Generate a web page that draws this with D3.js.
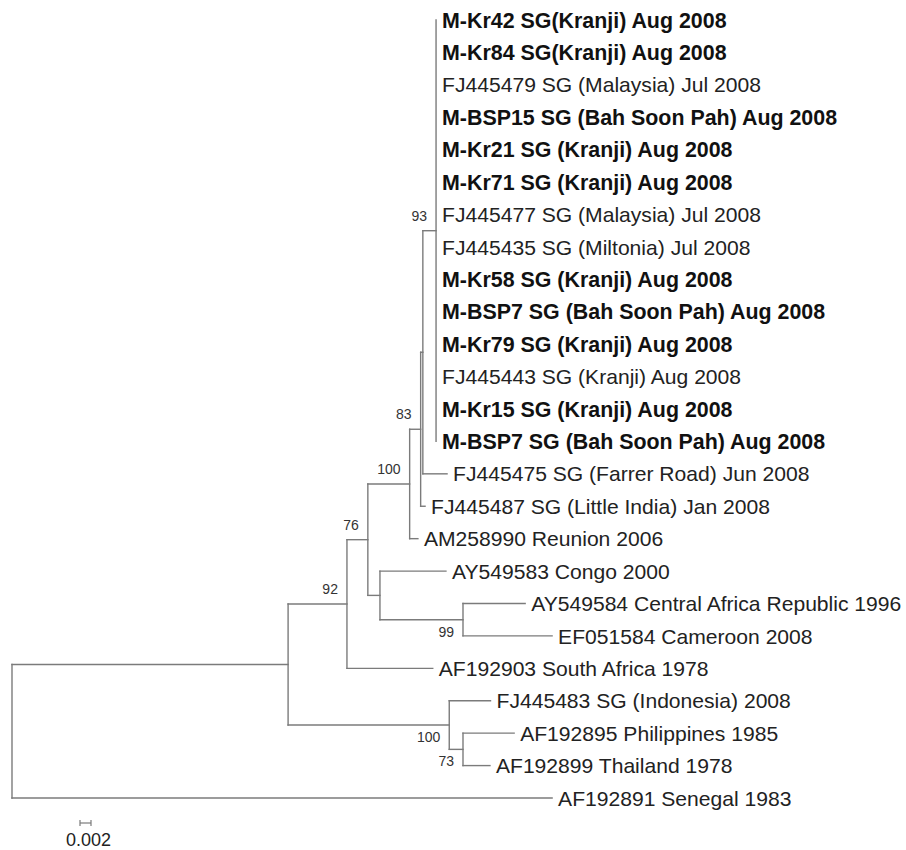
<!DOCTYPE html>
<html>
<head>
<meta charset="utf-8">
<script src="https://cdn.jsdelivr.net/npm/d3@7"></script>
<style>
  body { margin: 0; background: #fff; }
  svg { display: block; font-family: "Liberation Sans", Arial, sans-serif; }
</style>
</head>
<body>
<svg id="chart"></svg>
<script>
// Phylogenetic tree, rectangular layout

const width = 906, height = 850;

// tip labels, top to bottom
const tipIds = ["t0","t1","t2","t3","t4","t5","t6","t7","t8","t9","t10","t11","t12",
  "t13","t14","t15","t16","t17","t18","t19","t20","t21","t22","t23","t24"];
const tipLabels = [
  "M-Kr42 SG(Kranji) Aug 2008",
  "M-Kr84 SG(Kranji) Aug 2008",
  "FJ445479 SG (Malaysia) Jul 2008",
  "M-BSP15 SG (Bah Soon Pah) Aug 2008",
  "M-Kr21 SG (Kranji) Aug 2008",
  "M-Kr71 SG (Kranji) Aug 2008",
  "FJ445477 SG (Malaysia) Jul 2008",
  "FJ445435 SG (Miltonia) Jul 2008",
  "M-Kr58 SG (Kranji) Aug 2008",
  "M-BSP7 SG (Bah Soon Pah) Aug 2008",
  "M-Kr79 SG (Kranji) Aug 2008",
  "FJ445443 SG (Kranji) Aug 2008",
  "M-Kr15 SG (Kranji) Aug 2008",
  "M-BSP7 SG (Bah Soon Pah) Aug 2008",
  "FJ445475 SG (Farrer Road) Jun 2008",
  "FJ445487 SG (Little India) Jan 2008",
  "AM258990 Reunion 2006",
  "AY549583 Congo 2000",
  "AY549584 Central Africa Republic 1996",
  "EF051584 Cameroon 2008",
  "AF192903 South Africa 1978",
  "FJ445483 SG (Indonesia) 2008",
  "AF192895 Philippines 1985",
  "AF192899 Thailand 1978",
  "AF192891 Senegal 1983"
];

// [id, parent, branch length]
const edges = [
  ["root", "", 0],
  ["nIn", "root", 0.0502],
  ["n92", "nIn", 0.0107],
  ["n76", "n92", 0.0038],
  ["n100a", "n76", 0.0076],
  ["n83", "n100a", 0.0020],
  ["nA", "n83", 0.0004],
  ["n93", "nA", 0.0024],
  ["t0", "n93", 0], ["t1", "n93", 0], ["t2", "n93", 0], ["t3", "n93", 0],
  ["t4", "n93", 0], ["t5", "n93", 0], ["t6", "n93", 0], ["t7", "n93", 0],
  ["t8", "n93", 0], ["t9", "n93", 0], ["t10", "n93", 0], ["t11", "n93", 0],
  ["t12", "n93", 0], ["t13", "n93", 0],
  ["t14", "nA", 0.0044],
  ["t15", "n83", 0.0008],
  ["t16", "n100a", 0.0015],
  ["nAfr", "n76", 0.0022],
  ["t17", "nAfr", 0.0120],
  ["n99", "nAfr", 0.0151],
  ["t18", "n99", 0.0113],
  ["t19", "n99", 0.0162],
  ["t20", "n92", 0.0156],
  ["n100b", "nIn", 0.0293],
  ["t21", "n100b", 0.0075],
  ["n73", "n100b", 0.0025],
  ["t22", "n73", 0.0093],
  ["t23", "n73", 0.0049],
  ["t24", "root", 0.0982]
];

// bootstrap support [node, value]
const bootstrap = [
  ["n93", 93], ["n83", 83], ["n100a", 100], ["n76", 76],
  ["n92", 92], ["n99", 99], ["n100b", 100], ["n73", 73]
];

const scaleBarValue = 0.002;

const svg = d3.select("#chart")
  .attr("width", width)
  .attr("height", height);

svg.append("rect").attr("width", width).attr("height", height).attr("fill", "#fff");

const root = d3.stratify()
  .id(d => d[0])
  .parentId(d => d[1] || null)(edges);

const x = d3.scaleLinear().domain([0, 0.1]).range([12, 562]);
const y = d3.scalePoint().domain(tipIds).range([20, 798]);

const labelOf = new Map(tipIds.map((id, i) => [id, tipLabels[i]]));
const supportOf = new Map(bootstrap);

root.eachBefore(d => {
  d.dist = d.parent ? d.parent.dist + d.data[2] : 0;
});
root.eachAfter(d => {
  if (d.children) {
    d.y0 = (d.children[0].y0 + d.children[d.children.length - 1].y0) / 2;
  } else {
    d.y0 = y(d.id);
  }
});

const lineColor = "#7b7b7b";
const g = svg.append("g");

// horizontal branches
g.selectAll("line.h")
  .data(root.descendants().filter(d => d.parent && d.data[2] > 0))
  .join("line")
  .attr("class", "h")
  .attr("x1", d => x(d.parent.dist))
  .attr("x2", d => x(d.dist))
  .attr("y1", d => d.y0)
  .attr("y2", d => d.y0)
  .attr("stroke", lineColor)
  .attr("stroke-width", 1.4)
  .attr("stroke-linecap", "square");

// vertical connectors
g.selectAll("line.v")
  .data(root.descendants().filter(d => d.children))
  .join("line")
  .attr("class", "v")
  .attr("x1", d => x(d.dist))
  .attr("x2", d => x(d.dist))
  .attr("y1", d => d.children[0].y0)
  .attr("y2", d => d.children[d.children.length - 1].y0)
  .attr("stroke", lineColor)
  .attr("stroke-width", 1.4)
  .attr("stroke-linecap", "square");

// tip labels (isolates from this study in bold)
const isStudy = d => labelOf.get(d.id).startsWith("M-");
g.selectAll("text.tip")
  .data(root.leaves())
  .join("text")
  .attr("class", "tip")
  .attr("x", d => x(d.dist) + 6)
  .attr("y", d => d.y0)
  .attr("dy", "0.36em")
  .attr("font-size", d => isStudy(d) ? 21.4 : 21.1)
  .attr("font-weight", d => isStudy(d) ? "bold" : "normal")
  .attr("fill", d => isStudy(d) ? "#111" : "#222")
  .text(d => labelOf.get(d.id));

// bootstrap values: above branch for upper child, below for lower child
g.selectAll("text.bs")
  .data(root.descendants().filter(d => supportOf.has(d.id)))
  .join("text")
  .attr("class", "bs")
  .attr("x", d => x(d.dist) - 9)
  .attr("y", d => d.parent.children[0] === d ? d.y0 - 10 : d.y0 + 17)
  .attr("text-anchor", "end")
  .attr("font-size", 14)
  .attr("fill", "#333")
  .text(d => supportOf.get(d.id));

// scale bar
const barX = 80, barY = 823;
const barW = x(scaleBarValue) - x(0);
const bar = svg.append("g").attr("stroke", lineColor).attr("stroke-width", 1.2);
bar.append("line").attr("x1", barX).attr("x2", barX + barW).attr("y1", barY).attr("y2", barY);
bar.append("line").attr("x1", barX).attr("x2", barX).attr("y1", barY - 3).attr("y2", barY + 3);
bar.append("line").attr("x1", barX + barW).attr("x2", barX + barW).attr("y1", barY - 3).attr("y2", barY + 3);
svg.append("text")
  .attr("x", barX + barW / 2 + 3)
  .attr("y", 846)
  .attr("text-anchor", "middle")
  .attr("font-size", 18)
  .attr("fill", "#222")
  .text(d3.format(".3f")(scaleBarValue));
</script>
</body>
</html>
